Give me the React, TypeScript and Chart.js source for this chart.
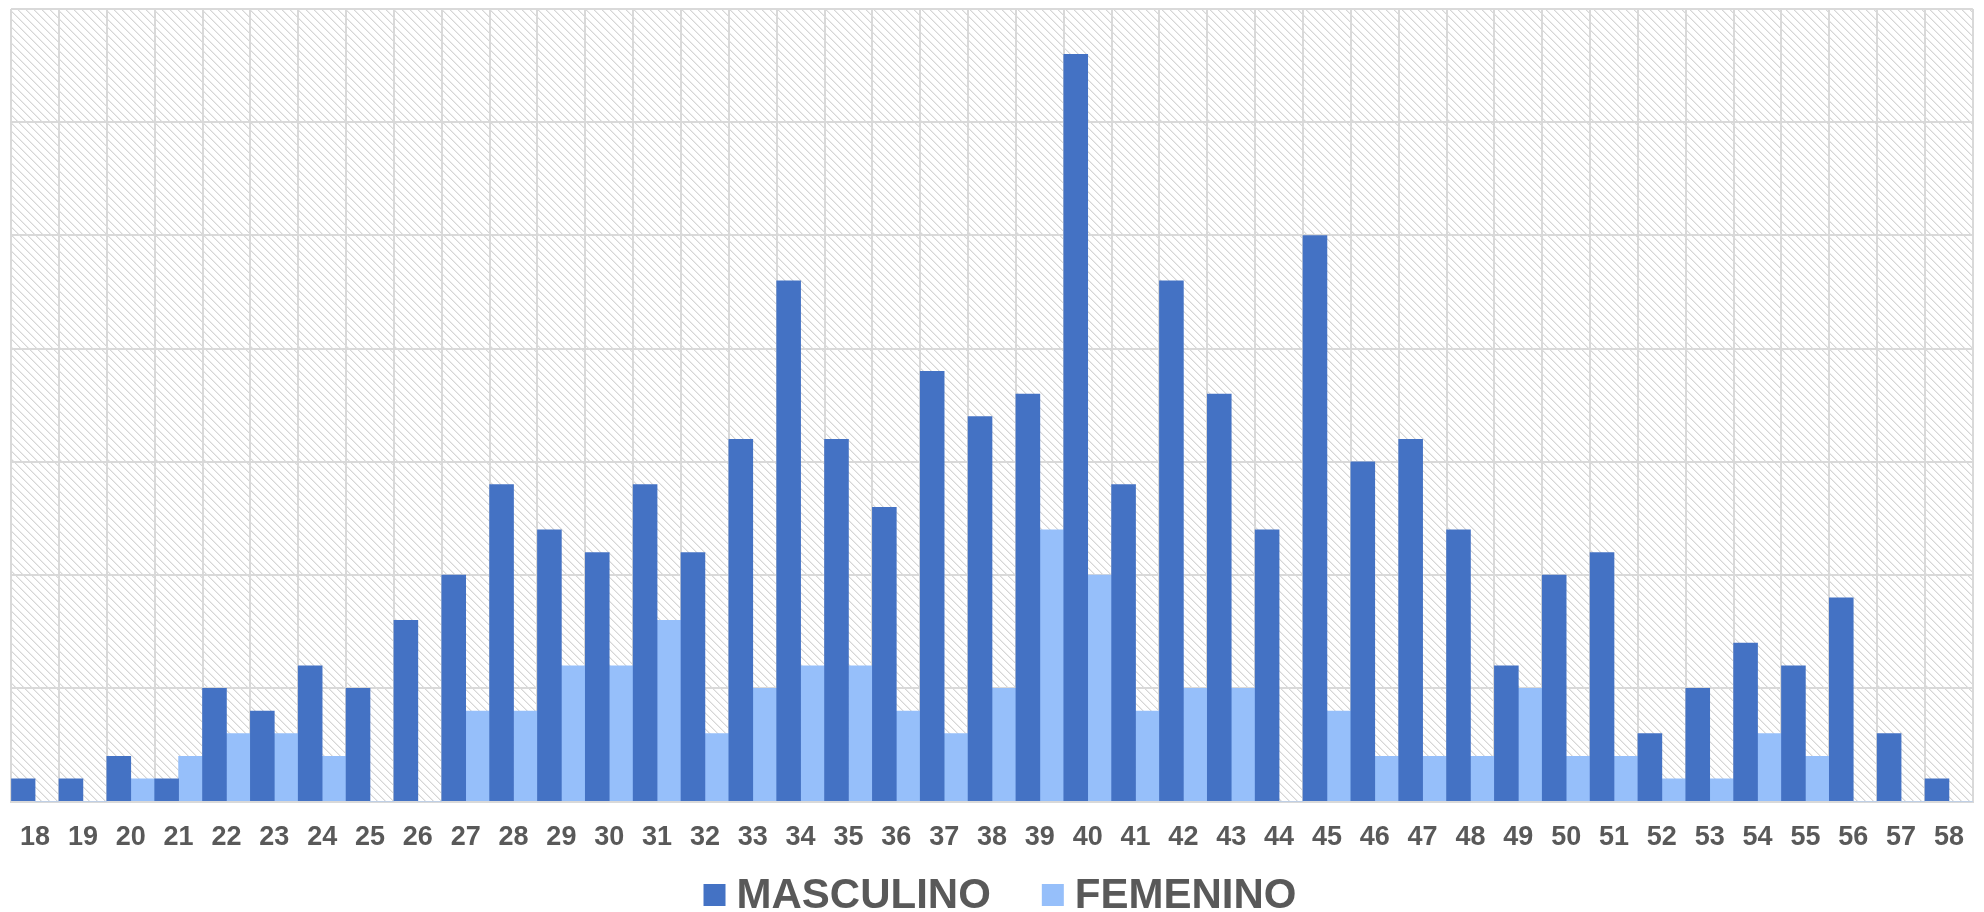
import React, { useEffect, useRef } from "react";
import { Chart, registerables } from "chart.js";

Chart.register(...registerables);

const ages = ["18","19","20","21","22","23","24","25","26","27","28","29","30","31","32","33","34","35","36","37","38","39","40","41","42","43","44","45","46","47","48","49","50","51","52","53","54","55","56","57","58"];
const masculino = [1,1,2,1,5,4,6,5,8,10,14,12,11,14,11,16,23,16,13,19,17,18,33,14,23,18,12,25,15,16,12,6,10,11,3,5,7,6,9,3,1];
const femenino = [0,0,1,2,3,3,2,0,0,4,4,6,6,8,3,5,6,6,4,3,5,12,10,4,5,5,0,4,2,2,2,5,2,2,1,1,3,2,0,0,0];
const seriesNames = ["MASCULINO", "FEMENINO"];
const seriesColors = ["#4472C4", "#96BFFA"];
const yMax = 35;
const yStep = 5;

const FONT = "'Liberation Sans', Arial, sans-serif";

function makePattern(ctx: CanvasRenderingContext2D) {
  const size = 8;
  const c = document.createElement("canvas");
  c.width = size;
  c.height = size;
  const p = c.getContext("2d")!;
  p.fillStyle = "#ffffff";
  p.fillRect(0, 0, size, size);
  for (let y = 0; y < size; y++) {
    for (let x = 0; x < size; x++) {
      const d = (x - y + size * 2) % size;
      if (d === 0) {
        p.fillStyle = "#d6d6d6";
        p.fillRect(x, y, 1, 1);
      } else if (d === 1) {
        p.fillStyle = "#ececec";
        p.fillRect(x, y, 1, 1);
      }
    }
  }
  return ctx.createPattern(c, "repeat");
}

const backgroundPlugin = {
  id: "hatchBg",
  beforeDraw(chart: any) {
    const { ctx, chartArea, width, height } = chart;
    ctx.save();
    ctx.fillStyle = "#ffffff";
    ctx.fillRect(0, 0, width, height);
    const pat = makePattern(ctx);
    if (pat) {
      ctx.fillStyle = pat;
      ctx.fillRect(chartArea.left, chartArea.top, chartArea.right - chartArea.left, chartArea.bottom - chartArea.top);
    }
    ctx.restore();
  },
};

const legendPlugin = {
  id: "customLegend",
  afterDraw(chart: any) {
    const { ctx, width } = chart;
    const box = 22;
    const textGap = 11;
    const itemGap = 51;
    ctx.save();
    ctx.font = `bold 42px ${FONT}`;
    const items = chart.data.datasets.map((ds: any) => ({
      label: ds.label,
      color: ds.backgroundColor,
      w: ctx.measureText(ds.label).width,
    }));
    let total = 0;
    items.forEach((it: any, i: number) => {
      total += box + textGap + it.w + (i > 0 ? itemGap : 0);
    });
    let x = (width - total) / 2 + 8;
    const baseline = 908;
    items.forEach((it: any) => {
      ctx.fillStyle = it.color;
      ctx.fillRect(x, 884, box, box);
      x += box + textGap;
      ctx.fillStyle = "#595959";
      ctx.textBaseline = "alphabetic";
      ctx.textAlign = "left";
      ctx.fillText(it.label, x, baseline);
      x += it.w + itemGap;
    });
    ctx.restore();
  },
};

export default function App() {
  const ref = useRef<HTMLCanvasElement | null>(null);
  useEffect(() => {
    if (!ref.current) return;
    const chart = new Chart(ref.current, {
      type: "bar",
      data: {
        labels: ages,
        datasets: [
          { label: seriesNames[0], data: masculino, backgroundColor: seriesColors[0], borderWidth: 0 },
          { label: seriesNames[1], data: femenino, backgroundColor: seriesColors[1], borderWidth: 0 },
        ],
      },
      options: {
        responsive: false,
        animation: false,
        devicePixelRatio: 1,
        layout: { padding: { left: 8, right: 7, top: 9, bottom: 38 } },
        datasets: { bar: { categoryPercentage: 1, barPercentage: 1 } },
        plugins: {
          legend: { display: false },
          tooltip: { enabled: false },
          title: { display: false },
        },
        scales: {
          x: {
            grid: { color: "#d9d9d9", lineWidth: 2, drawTicks: false, offset: true },
            border: { color: "#d9d9d9", width: 2 },
            ticks: {
              color: "#595959",
              font: { family: FONT, size: 27, weight: "bold" },
              padding: 20,
              maxRotation: 0,
              autoSkip: false,
            },
          },
          y: {
            min: 0,
            max: yMax,
            ticks: { display: false, stepSize: yStep },
            grid: { color: "#d9d9d9", lineWidth: 2, drawTicks: false },
            border: { display: false },
          },
        },
      },
      plugins: [backgroundPlugin, legendPlugin],
    });
    return () => chart.destroy();
  }, []);
  return (
    <div style={{ position: "fixed", left: 0, top: 0, width: 1984, height: 912, background: "#fff" }}>
      <canvas ref={ref} width={1984} height={912} style={{ width: 1984, height: 912, display: "block" }} />
    </div>
  );
}
